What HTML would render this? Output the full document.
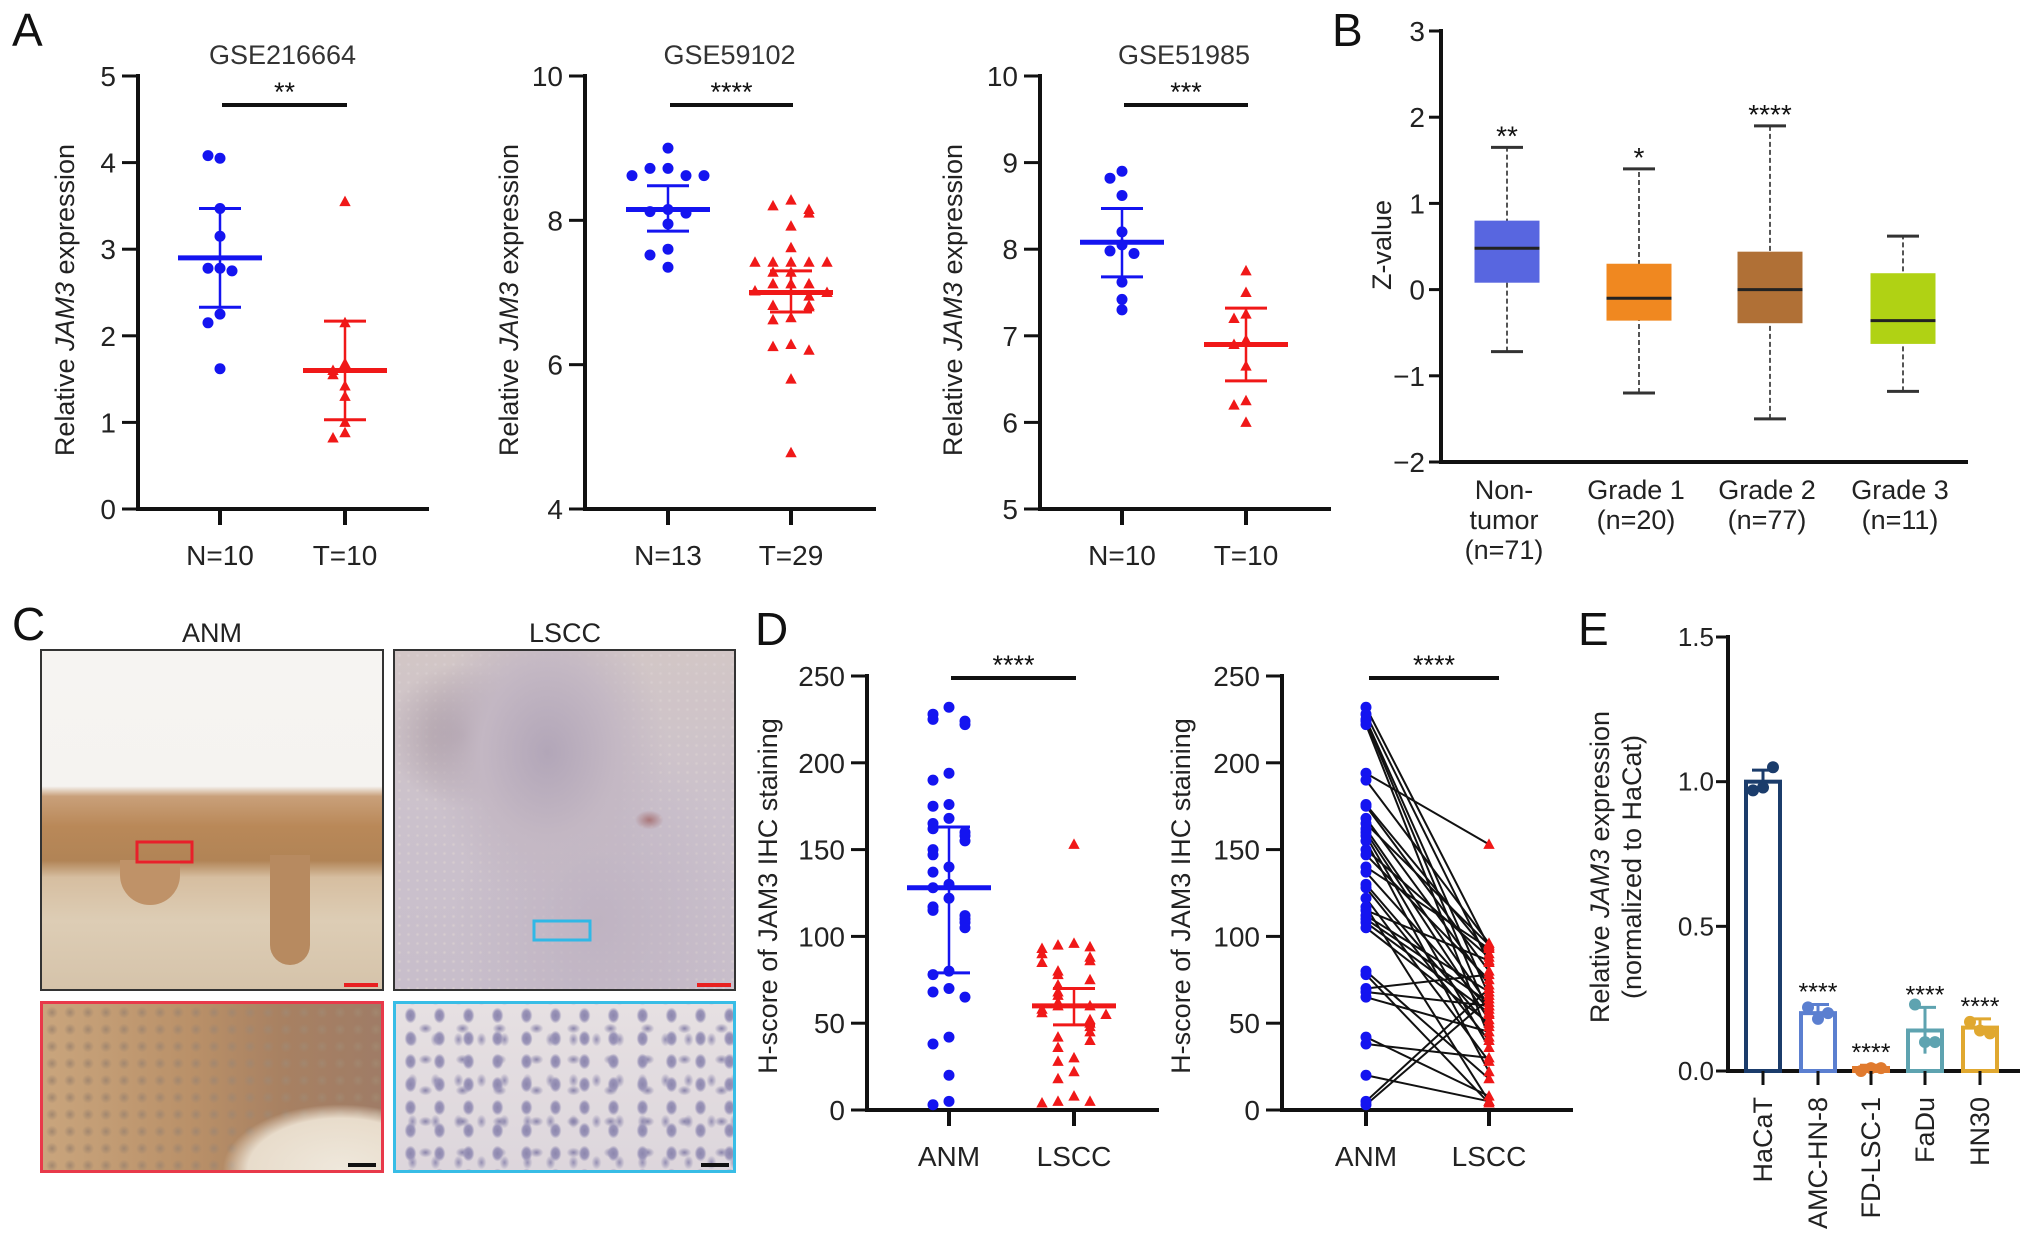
<!DOCTYPE html>
<html><head><meta charset="utf-8">
<style>
body{margin:0;background:#fff;}
#wrap{position:relative;width:2032px;height:1253px;overflow:hidden;background:#fff;font-family:"Liberation Sans",sans-serif;}
svg text{font-family:"Liberation Sans",sans-serif;}
.img{position:absolute;box-sizing:border-box;}
</style></head>
<body>
<div id="wrap">
<div class="img" style="left:40px;top:649px;width:344px;height:342px;border:2px solid #333;background:linear-gradient(180deg,#f6f4f2 0%,#f5f3f0 40%,#c9a07a 43%,#b98858 52%,#b18456 62%,#d6bea0 67%,#ddcdb5 80%,#d5c3aa 100%);"></div>
<div class="img" style="left:270px;top:855px;width:40px;height:110px;border-radius:0 0 20px 20px;background:#b78a60;"></div>
<div class="img" style="left:120px;top:860px;width:60px;height:45px;border-radius:0 0 30px 30px;background:#bf9268;"></div>
<div class="img" style="left:393px;top:649px;width:343px;height:342px;border:2px solid #333;background:radial-gradient(ellipse at 75% 50%,#a9777a 0%,transparent 4%),radial-gradient(ellipse at 45% 30%,#b2a6b8 0%,#c3b7c3 25%,transparent 45%),radial-gradient(ellipse at 20% 25%,#a99aa5 0%,transparent 20%),radial-gradient(ellipse at 60% 80%,#bfb3c2 0%,transparent 50%),radial-gradient(circle at 50% 50%,#d9cfd0 0,transparent 2px) 0 0/9px 9px,linear-gradient(180deg,#d2c6c6,#cbc1cc 50%,#c8becb);"></div>
<div class="img" style="left:40px;top:1001px;width:344px;height:172px;border:3px solid #e8394a;background:radial-gradient(ellipse at 88% 100%,#efe8dc 0%,#e8dccb 22%,transparent 28%),radial-gradient(circle,#a2876f 0,transparent 6px) 0 0/18px 17px,linear-gradient(90deg,#c9a57d 0%,#b99068 45%,#a88162 70%,#9f7c66 100%);"></div>
<div class="img" style="left:393px;top:1001px;width:343px;height:172px;border:3px solid #38bde6;background:radial-gradient(ellipse 6px 8px,#8c86ad 0%,#9a94b8 60%,transparent 100%) 0 0/29px 23px,radial-gradient(ellipse 7px 5px,#8a84ab 0%,transparent 100%) 11px 9px/37px 31px,radial-gradient(ellipse 5px 7px,#958fb3 0%,transparent 100%) 5px 15px/23px 41px,linear-gradient(#e6e0e2,#ddd6dc);"></div>
<svg id="chart" width="2032" height="1253" style="position:absolute;left:0;top:0"></svg>
</div>
<script>
// ---------- Panel A data ----------
const a1Cats = ["N=10","T=10"];
const a1Normal = [4.05,4.08,3.47,3.15,2.78,2.78,2.75,2.25,2.15,1.62];
const a1Tumor = [3.55,2.15,1.68,1.6,1.55,1.42,1.3,1.0,0.88,0.82];
const a1Stats = [[2.9,2.33,3.47],[1.6,1.03,2.17]];
const a1Ticks = [0,1,2,3,4,5];
const a2Cats = ["N=13","T=29"];
const a2Normal = [9.0,8.72,8.72,8.62,8.62,8.62,8.15,8.12,8.1,7.95,7.6,7.52,7.35];
const a2Tumor = [8.28,8.2,8.15,8.1,7.92,7.62,7.42,7.42,7.42,7.42,7.42,7.28,7.28,7.12,7.12,7.12,7.02,7.0,6.95,6.82,6.82,6.8,6.65,6.62,6.28,6.25,6.2,5.8,4.78];
const a2Stats = [[8.15,7.85,8.48],[7.0,6.73,7.3]];
const a2Ticks = [4,6,8,10];
const a3Cats = ["N=10","T=10"];
const a3Normal = [8.9,8.82,8.62,8.2,8.05,7.98,7.95,7.62,7.42,7.3];
const a3Tumor = [7.75,7.5,7.25,7.2,6.95,6.9,6.65,6.25,6.2,6.0];
const a3Stats = [[8.08,7.68,8.47],[6.9,6.48,7.32]];
const a3Ticks = [5,6,7,8,9,10];
// ---------- Panel B data ----------
const bCats = [["Non-","tumor","(n=71)"],["Grade 1","(n=20)"],["Grade 2","(n=77)"],["Grade 3","(n=11)"]];
const bMin = [-0.72,-1.2,-1.5,-1.18];
const bQ1 = [0.08,-0.36,-0.39,-0.63];
const bMed = [0.48,-0.1,0.0,-0.36];
const bQ3 = [0.8,0.3,0.44,0.19];
const bMax = [1.65,1.4,1.9,0.62];
const bSig = ["**","*","****",""];
const bTicks = [-2,-1,0,1,2,3];
// ---------- Panel D data ----------
const dCats = ["ANM","LSCC"];
const dAnm = [232,228,225,224,222,194,190,176,175,168,165,162,160,158,155,150,147,140,137,130,128,122,117,115,112,110,108,105,80,78,70,68,65,42,38,20,5,3];
const dLscc = [153,96,95,94,93,90,88,86,85,80,78,75,72,68,66,62,60,60,58,56,55,52,50,48,45,42,40,36,30,28,22,18,8,5,5,4,70,64];
const dPair = [3,8,14,20,25,0,1,5,9,12,2,16,21,27,30,6,11,4,18,23,26,29,33,7,13,15,19,22,31,35,10,17,24,32,28,34,36,37];
const dStats = [[128,79,163],[60,49,70]];
const dTicks = [0,50,100,150,200,250];
// ---------- Panel E data ----------
const eCats = ["HaCaT","AMC-HN-8","FD-LSC-1","FaDu","HN30"];
const eMeans = [1.0,0.2,0.01,0.14,0.15];
const eErr = [0.04,0.03,0.01,0.08,0.03];
const ePts = [[0.97,0.98,1.05],[0.22,0.18,0.2],[0.0,0.01,0.01],[0.23,0.1,0.1],[0.17,0.14,0.13]];
const eSig = ["","****","****","****","****"];
const eColors = ["#1b3c6b","#5b7fd0","#e07a2e","#5ea3b0","#e0a830"];
const eTicks = [0.0,0.5,1.0,1.5];

const svg = document.getElementById('chart');
const NS = "http://www.w3.org/2000/svg";
function mk(tag, attrs, parent){
  const e = document.createElementNS(NS, tag);
  for (const k in attrs) e.setAttribute(k, attrs[k]);
  (parent||svg).appendChild(e);
  return e;
}
function txt(x,y,s,size,anchor,extra){
  const t = mk('text',Object.assign({x:x,y:y,'font-size':size,'text-anchor':anchor||'middle',fill:'#111'},extra||{}));
  t.textContent = s;
  return t;
}
function line(x1,y1,x2,y2,w,c,extra){
  return mk('line',Object.assign({x1:x1,y1:y1,x2:x2,y2:y2,stroke:c||'#111','stroke-width':w},extra||{}));
}
function ylabelJam(x,y,before,after,size){
  const t = mk('text',{x:0,y:0,'font-size':size,'text-anchor':'middle',fill:'#222',transform:`translate(${x},${y}) rotate(-90)`});
  const a = mk('tspan',{},t); a.textContent = before;
  const b = mk('tspan',{'font-style':'italic'},t); b.textContent = 'JAM3';
  const c = mk('tspan',{},t); c.textContent = after;
  return t;
}
function panelLetter(x,y,s){
  const t = txt(x,y,s,46,'start');
  
  
}
function jitter(vals, scale, spread){
  const placed = [];
  return vals.map(v=>{
    const py = scale(v);
    const near = placed.filter(p=>Math.abs(p-py)<10).length;
    placed.push(py);
    if (near===0) return 0;
    const k = Math.ceil(near/2)*spread;
    return near%2 ? -k : k;
  });
}
function triangle(cx,cy,s,color){
  return mk('polygon',{points:`${cx},${cy-s} ${cx-s*0.95},${cy+s*0.75} ${cx+s*0.95},${cy+s*0.75}`,fill:color});
}

function scatterPanel(o){
  const sc = v => o.yBot - (v-o.ymin)/(o.ymax-o.ymin)*(o.yBot-o.yTop);
  const g = mk('g',{});
  
  
  const ax = line(o.ax,o.yTop-2,o.ax,o.yBot+2,4);
  
  
  const xx = line(o.ax-2,o.yBot,o.xEnd,o.yBot,4);
  
  
  o.ticks.forEach(t=>{
    const y = sc(t);
    const tk = line(o.ax-16,y,o.ax,y,3);
    
    
    const lb = txt(o.ax-22,y+10,String(t),o.tickSize||28,'end',{fill:'#222'});
    
    
  });
  o.cats.forEach((c,i)=>{
    const x = o.cx[i];
    const tk = line(x,o.yBot,x,o.yBot+16,4);
    
    
    const lb = txt(x,o.yBot+56,c,28,'middle',{fill:'#222'});
    
    
  });
  if (o.title){
    const tt = txt((o.cx[0]+o.cx[1])/2,o.yTop-12,o.title,27,'middle',{fill:'#333'});
    
    
  }
  const sb = line(o.cx[0]+2,o.sigY,o.cx[1]+2,o.sigY,4);
  
  
  const st = txt((o.cx[0]+o.cx[1])/2+2,o.sigY-4,o.sig,27,'middle');
  
  
  if (o.ylab) o.ylab();
  const sets = [o.a, o.b];
  const colors = ['#1414f0','#f01818'];
  sets.forEach((vals,i)=>{
    const js = jitter(vals, sc, o.spread||12);
    vals.forEach((v,j)=>{
      const x = o.cx[i] + js[j], y = sc(v);
      let m;
      if (i===0) m = mk('circle',{cx:x,cy:y,r:5.5,fill:colors[0]});
      else m = triangle(x,y,6,colors[1]);
      
      
    });
  });
  if (o.stats){
    o.stats.forEach((s,i)=>{
      const x = o.cx[i], c = colors[i];
      const ml = line(x-42,sc(s[0]),x+42,sc(s[0]),5,c);
      
      
      const vl = line(x,sc(s[1]),x,sc(s[2]),2.5,c);
      
      
      const c1 = line(x-21,sc(s[1]),x+21,sc(s[1]),3,c);
      
      
      const c2 = line(x-21,sc(s[2]),x+21,sc(s[2]),3,c);
      
      
    });
  }
  return sc;
}

// ---- Panel A ----
panelLetter(12,46,'A');
scatterPanel({name:'panel-a-gse216664',ax:138,yTop:76,yBot:509,ymin:0,ymax:5,ticks:a1Ticks,cats:a1Cats,cx:[220,345],xEnd:429,
  a:a1Normal,b:a1Tumor,stats:a1Stats,title:'GSE216664',sig:'**',sigY:105,
  ylab:()=>{const t=ylabelJam(74,300,'Relative ',' expression',27);}});
scatterPanel({name:'panel-a-gse59102',ax:585,yTop:76,yBot:509,ymin:4,ymax:10,ticks:a2Ticks,cats:a2Cats,cx:[668,791],xEnd:876,
  a:a2Normal,b:a2Tumor,stats:a2Stats,title:'GSE59102',sig:'****',sigY:105,spread:18,
  ylab:()=>{const t=ylabelJam(518,300,'Relative ',' expression',27);}});
scatterPanel({name:'panel-a-gse51985',ax:1040,yTop:76,yBot:509,ymin:5,ymax:10,ticks:a3Ticks,cats:a3Cats,cx:[1122,1246],xEnd:1331,
  a:a3Normal,b:a3Tumor,stats:a3Stats,title:'GSE51985',sig:'***',sigY:105,
  ylab:()=>{const t=ylabelJam(962,300,'Relative ',' expression',27);}});

// ---- Panel B ----
panelLetter(1332,46,'B');
(function(){
  const ax=1441, yTop=31, yBot=462, ymin=-2, ymax=3;
  const sc = v => yBot-(v-ymin)/(ymax-ymin)*(yBot-yTop);
  const cx = [1507,1639,1770,1903];
  const fills = ['#5866e0','#f08820','#b07036','#b0d214'];
  const a = line(ax,yTop-2,ax,yBot+2,4);  
  const b = line(ax-2,yBot,1968,yBot,4);  
  bTicks.forEach(t=>{
    const y=sc(t);
    const tk=line(ax-12,y,ax,y,3);  
    const lb=txt(ax-16,y+10,t<0?'\u2212'+Math.abs(t):String(t),28,'end',{fill:'#222'});
     
  });
  const yl = mk('text',{x:0,y:0,'font-size':27,'text-anchor':'middle',fill:'#222',transform:`translate(1391,245) rotate(-90)`});
  yl.textContent='Z-value';
   
  bCats.forEach((lines,i)=>{
    const x=cx[i], w=65;
    const wh=line(x,sc(bMin[i]),x,sc(bMax[i]),2,'#555',{'stroke-dasharray':'5,3'});
     
    const capL=line(x-16,sc(bMin[i]),x+16,sc(bMin[i]),3,'#333');  
    const capH=line(x-16,sc(bMax[i]),x+16,sc(bMax[i]),3,'#333');  
    const bx=mk('rect',{x:x-w/2,y:sc(bQ3[i]),width:w,height:sc(bQ1[i])-sc(bQ3[i]),fill:fills[i]});
     
    const md=line(x-w/2,sc(bMed[i]),x+w/2,sc(bMed[i]),3,'#222');  
    if (bSig[i]){ const s=txt(x,sc(bMax[i])-2,bSig[i],28,'middle');   }
    lines.forEach((l,k)=>{ const t=txt(x-3,499+k*30,l,27,'middle',{fill:'#222'});   });
  });
})();

// ---- Panel C ----
panelLetter(12,640,'C');
(function(){
  const t1=txt(212,642,'ANM',27,'middle',{fill:'#222'});  
  const t2=txt(565,642,'LSCC',27,'middle',{fill:'#222'});  
  const r1=mk('rect',{x:137,y:842,width:55,height:20,fill:'none',stroke:'#e8202a','stroke-width':3});  
  const r2=mk('rect',{x:534,y:921,width:56,height:19,fill:'none',stroke:'#30b8e6','stroke-width':3});  
  const s1=line(344,985,378,985,4,'#e82020');  
  const s2=line(697,985,731,985,4,'#e82020');  
  const s3=line(348,1165,376,1165,4,'#111');  
  const s4=line(701,1165,729,1165,4,'#111');  
})();

// ---- Panel D ----
panelLetter(755,645,'D');
const dScale1 = scatterPanel({name:'panel-d-scatter',ax:867,yTop:676,yBot:1110,ymin:0,ymax:250,ticks:dTicks,cats:dCats,cx:[949,1074],xEnd:1159,
  a:dAnm,b:dLscc.slice(0,36),stats:dStats,title:'',sig:'****',sigY:678,spread:16,
  ylab:()=>{const t=mk('text',{x:0,y:0,'font-size':27,'text-anchor':'middle',fill:'#222',transform:'translate(777,896) rotate(-90)'});t.textContent='H-score of JAM3 IHC staining';}});
(function(){
  const ax=1282,yTop=676,yBot=1110;
  const sc=v=>yBot-v/250*(yBot-yTop);
  const cx=[1366,1489];
  const a=line(ax,yTop-2,ax,yBot+2,4);  
  const b=line(ax-2,yBot,1573,yBot,4);  
  dTicks.forEach(t=>{const y=sc(t);const tk=line(ax-16,y,ax,y,3);
    const lb=txt(ax-22,y+10,String(t),28,'end',{fill:'#222'});});
  dCats.forEach((c,i)=>{const tk=line(cx[i],yBot,cx[i],yBot+16,4);
    const lb=txt(cx[i],yBot+56,c,28,'middle',{fill:'#222'});});
  const yl=mk('text',{x:0,y:0,'font-size':27,'text-anchor':'middle',fill:'#222',transform:'translate(1190,896) rotate(-90)'});
  yl.textContent='H-score of JAM3 IHC staining';  
  const sb=line(1369,678,1499,678,4);  
  const st=txt(1434,674,'****',27,'middle');  
  dAnm.forEach((v,i)=>{
    const w=dLscc[dPair[i]];
    const l=line(cx[0],sc(v),cx[1],sc(w),2,'#111');  
  });
  dAnm.forEach(v=>{const p=mk('circle',{cx:cx[0],cy:sc(v),r:5.5,fill:'#1414f0'});});
  dLscc.forEach(v=>{const p=triangle(cx[1],sc(v),6,'#f01818');});
})();

// ---- Panel E ----
panelLetter(1578,645,'E');
(function(){
  const ax=1728,yTop=637,yBot=1071;
  const sc=v=>yBot-v/1.5*(yBot-yTop);
  const cx=[1763,1818,1871,1925,1980];
  const a=line(ax,yTop-2,ax,yBot+2,4);  
  const b=line(ax-2,yBot,2020,yBot,4);  
  eTicks.forEach(t=>{const y=sc(t);const tk=line(ax-12,y,ax,y,3);
    const lb=txt(ax-14,y+9,t.toFixed(1),26,'end',{fill:'#222'});});
  const yl=ylabelJam(1609,867,'Relative ',' expression',27);  
  const yl2=mk('text',{x:0,y:0,'font-size':27,'text-anchor':'middle',fill:'#222',transform:'translate(1641,867) rotate(-90)'});
  yl2.textContent='(normalized to HaCat)';  
  eCats.forEach((c,i)=>{
    const x=cx[i], col=eColors[i], w=34;
    const h=Math.max(sc(0)-sc(eMeans[i]),3);
    const bar=mk('rect',{x:x-w/2,y:sc(0)-h,width:w,height:h,fill:'#fff',stroke:col,'stroke-width':4});
     
    const eb=line(x,sc(eMeans[i]-eErr[i]),x,sc(eMeans[i]+eErr[i]),3,col);  
    const ec=line(x-11,sc(eMeans[i]+eErr[i]),x+11,sc(eMeans[i]+eErr[i]),3,col);  
    ePts[i].forEach((v,k)=>{const p=mk('circle',{cx:x+(k-1)*10,cy:sc(v),r:6,fill:col});});
    const tk=line(x,yBot,x,yBot+14,3);  
    const lb=mk('text',{x:0,y:0,'font-size':27,'text-anchor':'end',fill:'#222',transform:`translate(${x+9},${yBot+26}) rotate(-90)`});
    lb.textContent=c;  
    if (eSig[i]){const s=txt(x,sc(eMeans[i]+eErr[i])-4,eSig[i],25,'middle');}
  });
})();
</script>
</body></html>
